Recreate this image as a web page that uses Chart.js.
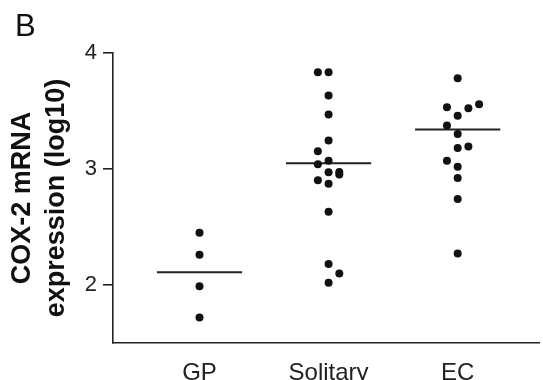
<!DOCTYPE html>
<html>
<head>
<meta charset="utf-8">
<script src="https://cdn.jsdelivr.net/npm/chart.js@4/dist/chart.umd.min.js"></script>
<style>
  html, body { margin: 0; padding: 0; background: #fff; }
  #wrap { width: 543px; height: 380px; position: relative; }
</style>
</head>
<body>
<div id="wrap"><canvas id="myChart"></canvas></div>
<script>
var categories = ['GP', 'Solitary', 'EC'];
var yTicks = [2, 3, 4];

var gpValues = [2.45, 2.26, 1.99, 1.72];
var gpSlots = [0, 0, 0, 0];

var solitaryValues = [3.835, 3.835, 3.633, 3.469, 3.245, 3.153, 3.072, 3.040, 2.971, 2.975, 2.952, 2.902, 2.873, 2.632, 2.180, 2.099, 2.019];
var solitarySlots = [-1, 0, 0, 0, 0, -1, 0, -1, 0, 1, 1, -1, 0, 0, 0, 1, 0];

var ecValues = [3.783, 3.532, 3.558, 3.524, 3.460, 3.374, 3.302, 3.193, 3.181, 3.072, 3.020, 2.922, 2.741, 2.272];
var ecSlots = [0, -1, 2, 1, 0, -1, 0, 1, 0, -1, 0, 0, 0, 0];

var medians = [2.11, 3.05, 3.34];

// dot spacing and median bar half width, in category units
var slotStep = 0.083;
var barHalf = 0.33;

function points(catIndex, values, slots) {
  var out = [];
  for (var i = 0; i < values.length; i++) {
    out.push({ x: catIndex + 1 + slots[i] * slotStep, y: values[i] });
  }
  return out;
}

var groups = [[gpValues, gpSlots], [solitaryValues, solitarySlots], [ecValues, ecSlots]];
var datasets = [];
groups.forEach(function (g, i) {
  datasets.push({
    type: 'scatter',
    data: points(i, g[0], g[1]),
    backgroundColor: '#111',
    borderWidth: 0,
    pointRadius: 4,
    order: 1
  });
  datasets.push({
    type: 'line',
    data: [{ x: i + 1 - barHalf, y: medians[i] }, { x: i + 1 + barHalf, y: medians[i] }],
    borderColor: '#222',
    borderWidth: 2,
    pointRadius: 0,
    order: 2
  });
});

var panelLabel = {
  id: 'panelLabel',
  afterDraw: function (chart) {
    var ctx = chart.ctx;
    ctx.save();
    ctx.fillStyle = '#111';
    ctx.font = '31px "Liberation Sans", Arial, sans-serif';
    ctx.textBaseline = 'alphabetic';
    ctx.fillText('B', 15, 36);
    ctx.restore();
  }
};

Chart.defaults.font.family = '"Liberation Sans", Arial, sans-serif';
Chart.defaults.color = '#222';

var ctx = document.getElementById('myChart').getContext('2d');
var myChart = new Chart(ctx, {
  type: 'scatter',
  data: { datasets: datasets },
  plugins: [panelLabel],
  options: {
    responsive: true,
    maintainAspectRatio: false,
    animation: false,
    layout: { padding: { top: 53, left: 0, right: 0, bottom: 0 } },
    plugins: { legend: { display: false }, tooltip: { enabled: false } },
    scales: {
      x: {
        type: 'linear',
        min: 0.33,
        max: 3.63,
        afterBuildTicks: function (scale) {
          scale.ticks = categories.map(function (c, i) { return { value: i + 1 }; });
        },
        afterFit: function (scale) { scale.height = 37; },
        ticks: {
          padding: 16,
          font: { size: 24 },
          color: '#222',
          callback: function (v) { return categories[v - 1]; }
        },
        grid: { display: false, drawTicks: false },
        border: { display: true, color: '#222', width: 1.6 }
      },
      y: {
        min: 1.5,
        max: 4,
        afterBuildTicks: function (scale) {
          scale.ticks = yTicks.map(function (v) { return { value: v }; });
        },
        afterFit: function (scale) { scale.width = 113; },
        ticks: { padding: 6, font: { size: 22 }, color: '#222' },
        grid: { drawOnChartArea: false, drawTicks: true, tickLength: 10, color: '#222', lineWidth: 1.6 },
        border: { display: true, color: '#222', width: 1.6 },
        title: {
          display: true,
          text: ['COX-2 mRNA', 'expression (log10)'],
          font: { size: 27, weight: 'bold', lineHeight: 1.25 },
          color: '#111',
          padding: { top: 6, bottom: 0 }
        }
      }
    }
  }
});
</script>
</body>
</html>
